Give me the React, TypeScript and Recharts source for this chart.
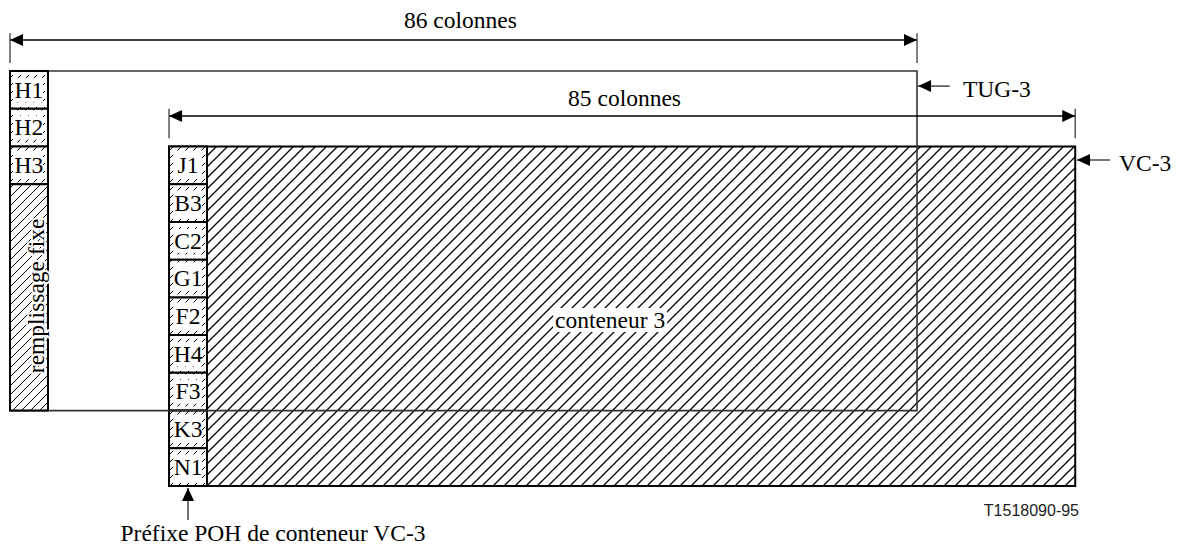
import React from 'react';
import { ComposedChart, XAxis, YAxis, ReferenceArea, ReferenceLine, Scatter } from 'recharts';

// Coordinates: x in "column" units (TUG-3 spans 0..86), y in "row" units (9 rows per frame, downward)
const X_DOMAIN = [-0.948, 110.84];
const Y_DOMAIN = [-1.882, 12.589];

const TUG_ROWS = ['H1', 'H2', 'H3'];
const POH_ROWS = ['J1', 'B3', 'C2', 'G1', 'F2', 'H4', 'F3', 'K3', 'N1'];

const TUG_BOX = [0, 86, 0, 9];
const H_COL = [0, 3.6];
const FIXED_ROWS = [3, 9];
const VC_BOX = [15.08, 101.0, 2, 11];
const POH_COL = [15.08, 18.68];

const DIM_LABELS = ['86 colonnes', '85 colonnes'];
const DIM_SPANS = [[0, 86], [15.08, 101.0]];
const DIM_LINE_Y = [-0.82, 1.19];
const DIM_TICK_Y = [[-1.0, -0.21], [1.0, 1.78]];
const DIM_LABEL_POS = [[42.7, -1.35], [58.27, 0.73]];

const POINTER_LABELS = ['TUG-3', 'VC-3'];
const POINTER_TIP = [[86.1, 0.4], [101.17, 2.36]];
const POINTER_TAIL_X = [89.1, 104.3];
const POINTER_TEXT = [[90.36, 0.477], [105.15, 2.44]];

const POH_NOTE = 'Préfixe POH de conteneur VC-3';
const POH_ARROW = [16.88, 11.05, 11.9];
const POH_NOTE_POS = [24.94, 12.24];
const REF_CODE = 'T1518090-95';
const REF_CODE_POS = [101.36, 11.635];
const PAYLOAD_LABEL = 'conteneur 3';
const PAYLOAD_POS = [56.9, 6.6];
const FIXED_LABEL = 'remplissage fixe';
const FIXED_POS = [3.27, 5.96];

const SERIF = '"Liberation Serif", "Times New Roman", Times, serif';
const SANS = '"Liberation Sans", Arial, sans-serif';

type Lbl = { x: number; y: number; text: string; kind: string };

const labels: Lbl[] = [
  ...TUG_ROWS.map((t, i) => ({ x: (H_COL[0] + H_COL[1]) / 2, y: TUG_BOX[2] + i + 0.5, text: t, kind: 'cell' })),
  ...POH_ROWS.map((t, i) => ({ x: (POH_COL[0] + POH_COL[1]) / 2, y: VC_BOX[2] + i + 0.5, text: t, kind: 'cell' })),
  ...DIM_LABELS.map((t, i) => ({ x: DIM_LABEL_POS[i][0], y: DIM_LABEL_POS[i][1], text: t, kind: 'center' })),
  ...POINTER_LABELS.map((t, i) => ({ x: POINTER_TEXT[i][0], y: POINTER_TEXT[i][1], text: t, kind: 'start' })),
  { x: POH_NOTE_POS[0], y: POH_NOTE_POS[1], text: POH_NOTE, kind: 'center' },
  { x: REF_CODE_POS[0], y: REF_CODE_POS[1], text: REF_CODE, kind: 'sans' },
  { x: PAYLOAD_POS[0], y: PAYLOAD_POS[1], text: PAYLOAD_LABEL, kind: 'boxed' },
  { x: FIXED_POS[0], y: FIXED_POS[1], text: FIXED_LABEL, kind: 'vertical' },
];

type Head = { x: number; y: number; dir: string };
const heads: Head[] = [
  ...DIM_SPANS.flatMap((s, i) => [
    { x: s[0], y: DIM_LINE_Y[i], dir: 'left' },
    { x: s[1], y: DIM_LINE_Y[i], dir: 'right' },
  ]),
  ...POINTER_TIP.map((p) => ({ x: p[0], y: p[1], dir: 'left' })),
  { x: POH_ARROW[0], y: POH_ARROW[1], dir: 'up' },
];

const FS = 23.5;

const renderLabel = (p: any) => {
  const d: Lbl = p.payload;
  const cx = p.cx;
  const cy = p.cy;
  if (d.kind === 'cell') {
    return (
      <g>
        <rect x={cx - 14} y={cy - 12} width={28} height={24} fill="#fff" />
        <text x={cx} y={cy + FS * 0.33} textAnchor="middle" fontFamily={SERIF} fontSize={FS} fill="#000">{d.text}</text>
      </g>
    );
  }
  if (d.kind === 'boxed') {
    return (
      <g>
        <rect x={cx - 57} y={cy - 12} width={114} height={24} fill="#fff" />
        <text x={cx} y={cy + FS * 0.33} textAnchor="middle" fontFamily={SERIF} fontSize={FS} fill="#000">{d.text}</text>
      </g>
    );
  }
  if (d.kind === 'vertical') {
    return (
      <g>
        <text x={cx} y={cy} transform={`rotate(-90 ${cx} ${cy})`} textAnchor="middle" fontFamily={SERIF} fontSize={FS} fill="#000" stroke="#fff" strokeWidth={4} strokeLinejoin="round" style={{ paintOrder: 'stroke' }}>{d.text}</text>
      </g>
    );
  }
  if (d.kind === 'sans') {
    return (
      <text x={cx} y={cy + 16 * 0.36} textAnchor="end" fontFamily={SANS} fontSize={16} fill="#222">{d.text}</text>
    );
  }
  return (
    <text x={cx} y={cy + FS * 0.33} textAnchor={d.kind === 'start' ? 'start' : 'middle'} fontFamily={SERIF} fontSize={FS} fill="#000">{d.text}</text>
  );
};

const renderHead = (p: any) => {
  const d: Head = p.payload;
  const cx = p.cx;
  const cy = p.cy;
  const L = 13;
  const h = 6;
  let pts = '';
  if (d.dir === 'left') pts = `${cx},${cy} ${cx + L},${cy - h} ${cx + L},${cy + h}`;
  else if (d.dir === 'right') pts = `${cx},${cy} ${cx - L},${cy - h} ${cx - L},${cy + h}`;
  else pts = `${cx},${cy} ${cx - h},${cy + L} ${cx + h},${cy + L}`;
  return <polygon points={pts} fill="#000" />;
};

export default function App() {
  return (
    <div style={{ position: 'absolute', left: 0, top: 0, width: 1179, height: 546, background: '#fff' }}>
      <svg width={0} height={0} style={{ position: 'absolute' }}>
        <defs>
          <pattern id="dense" patternUnits="userSpaceOnUse" width={11} height={11}>
            <rect width={11} height={11} fill="#fff" />
            <path d="M-1,1 L1,-1 M0,11 L11,0 M10,12 L12,10" stroke="#000" strokeWidth={1.25} />
          </pattern>
          <pattern id="fixed" patternUnits="userSpaceOnUse" width={9} height={9}>
            <rect width={9} height={9} fill="#fff" />
            <path d="M-1,1 L1,-1 M0,9 L9,0 M8,10 L10,8" stroke="#000" strokeWidth={1} />
          </pattern>
          <pattern id="cell" patternUnits="userSpaceOnUse" width={8} height={8}>
            <rect width={8} height={8} fill="#fff" />
            <path d="M1.5,6.5 L5,3" stroke="#000" strokeWidth={1} />
          </pattern>
        </defs>
      </svg>
      <ComposedChart width={1179} height={546} margin={{ top: 0, right: 0, bottom: 0, left: 0 }}>
        <XAxis type="number" dataKey="x" domain={X_DOMAIN} hide allowDataOverflow />
        <YAxis type="number" dataKey="y" domain={Y_DOMAIN} reversed hide allowDataOverflow />

        {/* VC-3 payload */}
        <ReferenceArea x1={VC_BOX[0]} x2={VC_BOX[1]} y1={VC_BOX[2]} y2={VC_BOX[3]} fill="url(#dense)" fillOpacity={1} stroke="#000" strokeWidth={2} ifOverflow="visible" />
        {/* POH cells */}
        {POH_ROWS.map((r, i) => (
          <ReferenceArea key={'poh' + r} x1={POH_COL[0]} x2={POH_COL[1]} y1={VC_BOX[2] + i} y2={VC_BOX[2] + i + 1} fill="url(#cell)" fillOpacity={1} stroke="#000" strokeWidth={2} ifOverflow="visible" />
        ))}
        {/* TUG-3 outline */}
        <ReferenceArea x1={TUG_BOX[0]} x2={TUG_BOX[1]} y1={TUG_BOX[2]} y2={TUG_BOX[3]} fill="none" fillOpacity={0} stroke="#333" strokeWidth={1.6} ifOverflow="visible" />
        {/* TUG-3 overhead cells */}
        {TUG_ROWS.map((r, i) => (
          <ReferenceArea key={'tug' + r} x1={H_COL[0]} x2={H_COL[1]} y1={TUG_BOX[2] + i} y2={TUG_BOX[2] + i + 1} fill="url(#cell)" fillOpacity={1} stroke="#000" strokeWidth={2} ifOverflow="visible" />
        ))}
        <ReferenceArea x1={H_COL[0]} x2={H_COL[1]} y1={FIXED_ROWS[0]} y2={FIXED_ROWS[1]} fill="url(#fixed)" fillOpacity={1} stroke="#000" strokeWidth={2} ifOverflow="visible" />

        {/* dimension lines */}
        {DIM_SPANS.map((s, i) => (
          <ReferenceLine key={'dim' + i} segment={[{ x: s[0], y: DIM_LINE_Y[i] }, { x: s[1], y: DIM_LINE_Y[i] }]} stroke="#000" strokeWidth={1.5} ifOverflow="visible" />
        ))}
        {DIM_SPANS.flatMap((s, i) =>
          s.map((xv, j) => (
            <ReferenceLine key={'tick' + i + j} segment={[{ x: xv, y: DIM_TICK_Y[i][0] }, { x: xv, y: DIM_TICK_Y[i][1] }]} stroke="#555" strokeWidth={1.5} ifOverflow="visible" />
          )),
        )}
        {/* pointers */}
        {POINTER_TIP.map((p, i) => (
          <ReferenceLine key={'ptr' + i} segment={[{ x: p[0], y: p[1] }, { x: POINTER_TAIL_X[i], y: p[1] }]} stroke="#444" strokeWidth={1.5} ifOverflow="visible" />
        ))}
        <ReferenceLine segment={[{ x: POH_ARROW[0], y: POH_ARROW[1] }, { x: POH_ARROW[0], y: POH_ARROW[2] }]} stroke="#444" strokeWidth={1.5} ifOverflow="visible" />

        <Scatter data={heads} shape={renderHead} isAnimationActive={false} />
        <Scatter data={labels} shape={renderLabel} isAnimationActive={false} />
      </ComposedChart>
    </div>
  );
}
